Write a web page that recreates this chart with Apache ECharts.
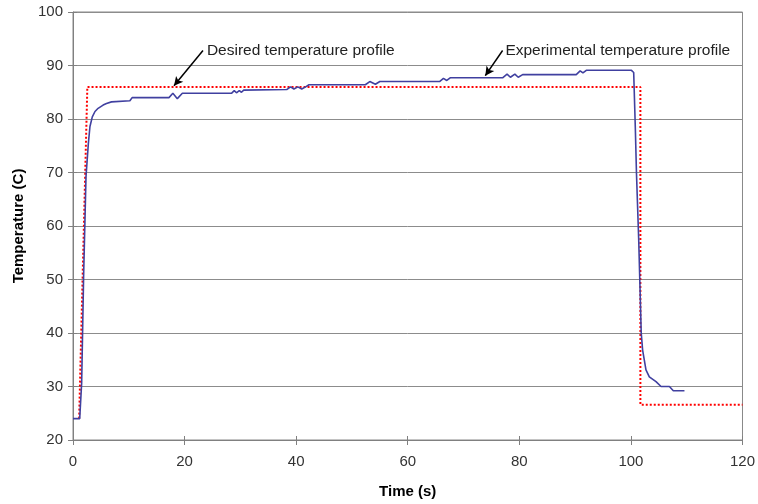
<!DOCTYPE html>
<html><head><meta charset="utf-8">
<script src="https://cdn.jsdelivr.net/npm/echarts@6/dist/echarts.min.js"></script>
<style>html,body{margin:0;padding:0;background:#fff}#c{width:758px;height:504px}</style>
</head><body><div id="c"></div>
<script>
// Experimental temperature profile: [time (s), temperature (C)]
const experimental = [
  [0,24],[1.2,24],[1.55,30.6],[1.9,50.5],[2.33,69.2],[2.75,75.4],[3.04,78.6],[3.46,80.4],
  [3.94,81.4],[4.5,82.0],[5.4,82.6],[6.0,82.9],[6.9,83.2],[10.2,83.4],[10.6,84.0],[17.2,84.0],
  [17.9,84.8],[18.7,83.8],[19.6,84.8],[28.4,84.8],[28.9,85.3],[29.3,84.9],[29.8,85.3],[30.2,85.0],
  [30.6,85.4],[38.3,85.5],[39.0,86.0],[39.6,85.6],[40.3,86.0],[41.0,85.6],[41.7,86.0],[42.3,86.4],
  [52.4,86.4],[53.2,87.0],[54.2,86.5],[55.0,87.0],[65.7,87.0],[66.4,87.6],[67.0,87.2],[67.6,87.7],
  [77.0,87.7],[77.8,88.4],[78.4,87.8],[79.2,88.4],[79.8,87.8],[80.6,88.3],[90.2,88.3],[90.9,89.0],
  [91.4,88.6],[92.0,89.1],[100.1,89.1],[100.5,88.7],[100.8,78.0],[101.0,69.8],[101.4,57.4],
  [101.85,40.0],[102.1,36.8],[102.7,33.1],[103.3,31.8],[104.5,30.9],[105.4,30.0],[106.9,30.0],
  [107.6,29.2],[109.6,29.2]
];
// Desired temperature profile
const desired = [[1.1,24],[1.44,24],[2.57,86],[101.7,86],[101.7,26.6],[120,26.6]];

const xTicks = {min:0, max:120, interval:20};
const yTicks = {min:20, max:100, interval:10};

// Annotations
const annoLabels = ['Desired temperature profile', 'Experimental temperature profile'];
const annoTextPos = [[24.0, 92.8], [77.5, 92.8]];
const annoArrowStart = [[23.3, 92.8], [77.0, 92.8]];
const annoArrowTip = [[18.1, 86.2], [73.9, 88.1]];

const FONT = "'Liberation Sans', Arial, sans-serif";
const AX = '#808080';
const chart = echarts.init(document.getElementById('c'), null, {renderer:'canvas'});
const innerTicks = (extra) => Object.assign({type:'value', axisLine:{show:false}, axisLabel:{show:false},
  splitLine:{show:false}, axisTick:{show:true, inside:true, length:4, lineStyle:{color:AX}}}, extra);
chart.setOption({
  animation:false,
  backgroundColor:'#fff',
  grid:{left:73, right:15, top:12, bottom:64, show:true, borderColor:'#888', borderWidth:1, backgroundColor:'transparent'},
  xAxis:[{type:'value', min:xTicks.min, max:xTicks.max, interval:xTicks.interval,
    name:'Time (s)', nameLocation:'middle', nameGap:44,
    nameTextStyle:{fontFamily:FONT, fontSize:15, fontWeight:'bold', color:'#000'},
    axisLine:{lineStyle:{color:AX, width:1}},
    axisTick:{show:true, length:5, lineStyle:{color:AX}},
    axisLabel:{fontFamily:FONT, fontSize:15, color:'#333', margin:14},
    splitLine:{show:false}},
    innerTicks({min:xTicks.min, max:xTicks.max, interval:xTicks.interval, position:'bottom'})],
  yAxis:[{type:'value', min:yTicks.min, max:yTicks.max, interval:yTicks.interval,
    name:'Temperature (C)', nameLocation:'middle', nameGap:47, nameRotate:90,
    nameTextStyle:{fontFamily:FONT, fontSize:15, fontWeight:'bold', color:'#000'},
    axisLine:{show:true, lineStyle:{color:AX, width:1}},
    axisTick:{show:true, length:5, lineStyle:{color:AX}},
    axisLabel:{fontFamily:FONT, fontSize:15, color:'#333', margin:10},
    splitLine:{show:true, lineStyle:{color:'#8c8c8c', width:1}}},
    innerTicks({min:yTicks.min, max:yTicks.max, interval:yTicks.interval, position:'left'})],
  series:[
    {type:'line', name:'Desired', data:desired, showSymbol:false, symbol:'none', z:2,
      lineStyle:{color:'#ff0000', width:2, type:[2,2]},
      markLine:{silent:true, symbol:['none','arrow'], symbolSize:[7,9],
        lineStyle:{color:'#000', width:1.5, type:'solid'}, label:{show:false},
        data: annoArrowStart.map((s,i)=>[{coord:s},{coord:annoArrowTip[i]}])},
      markPoint:{silent:true, symbol:'rect', symbolSize:0,
        label:{show:true, position:'right', distance:0, fontFamily:FONT, fontSize:15.5, color:'#222',
          formatter:p=>p.name},
        data: annoLabels.map((t,i)=>({name:t, coord:annoTextPos[i]}))}
    },
    {type:'line', name:'Experimental', data:experimental, showSymbol:false, symbol:'none', z:3,
      lineStyle:{color:'#4040a0', width:1.6}}
  ]
});
</script></body></html>
